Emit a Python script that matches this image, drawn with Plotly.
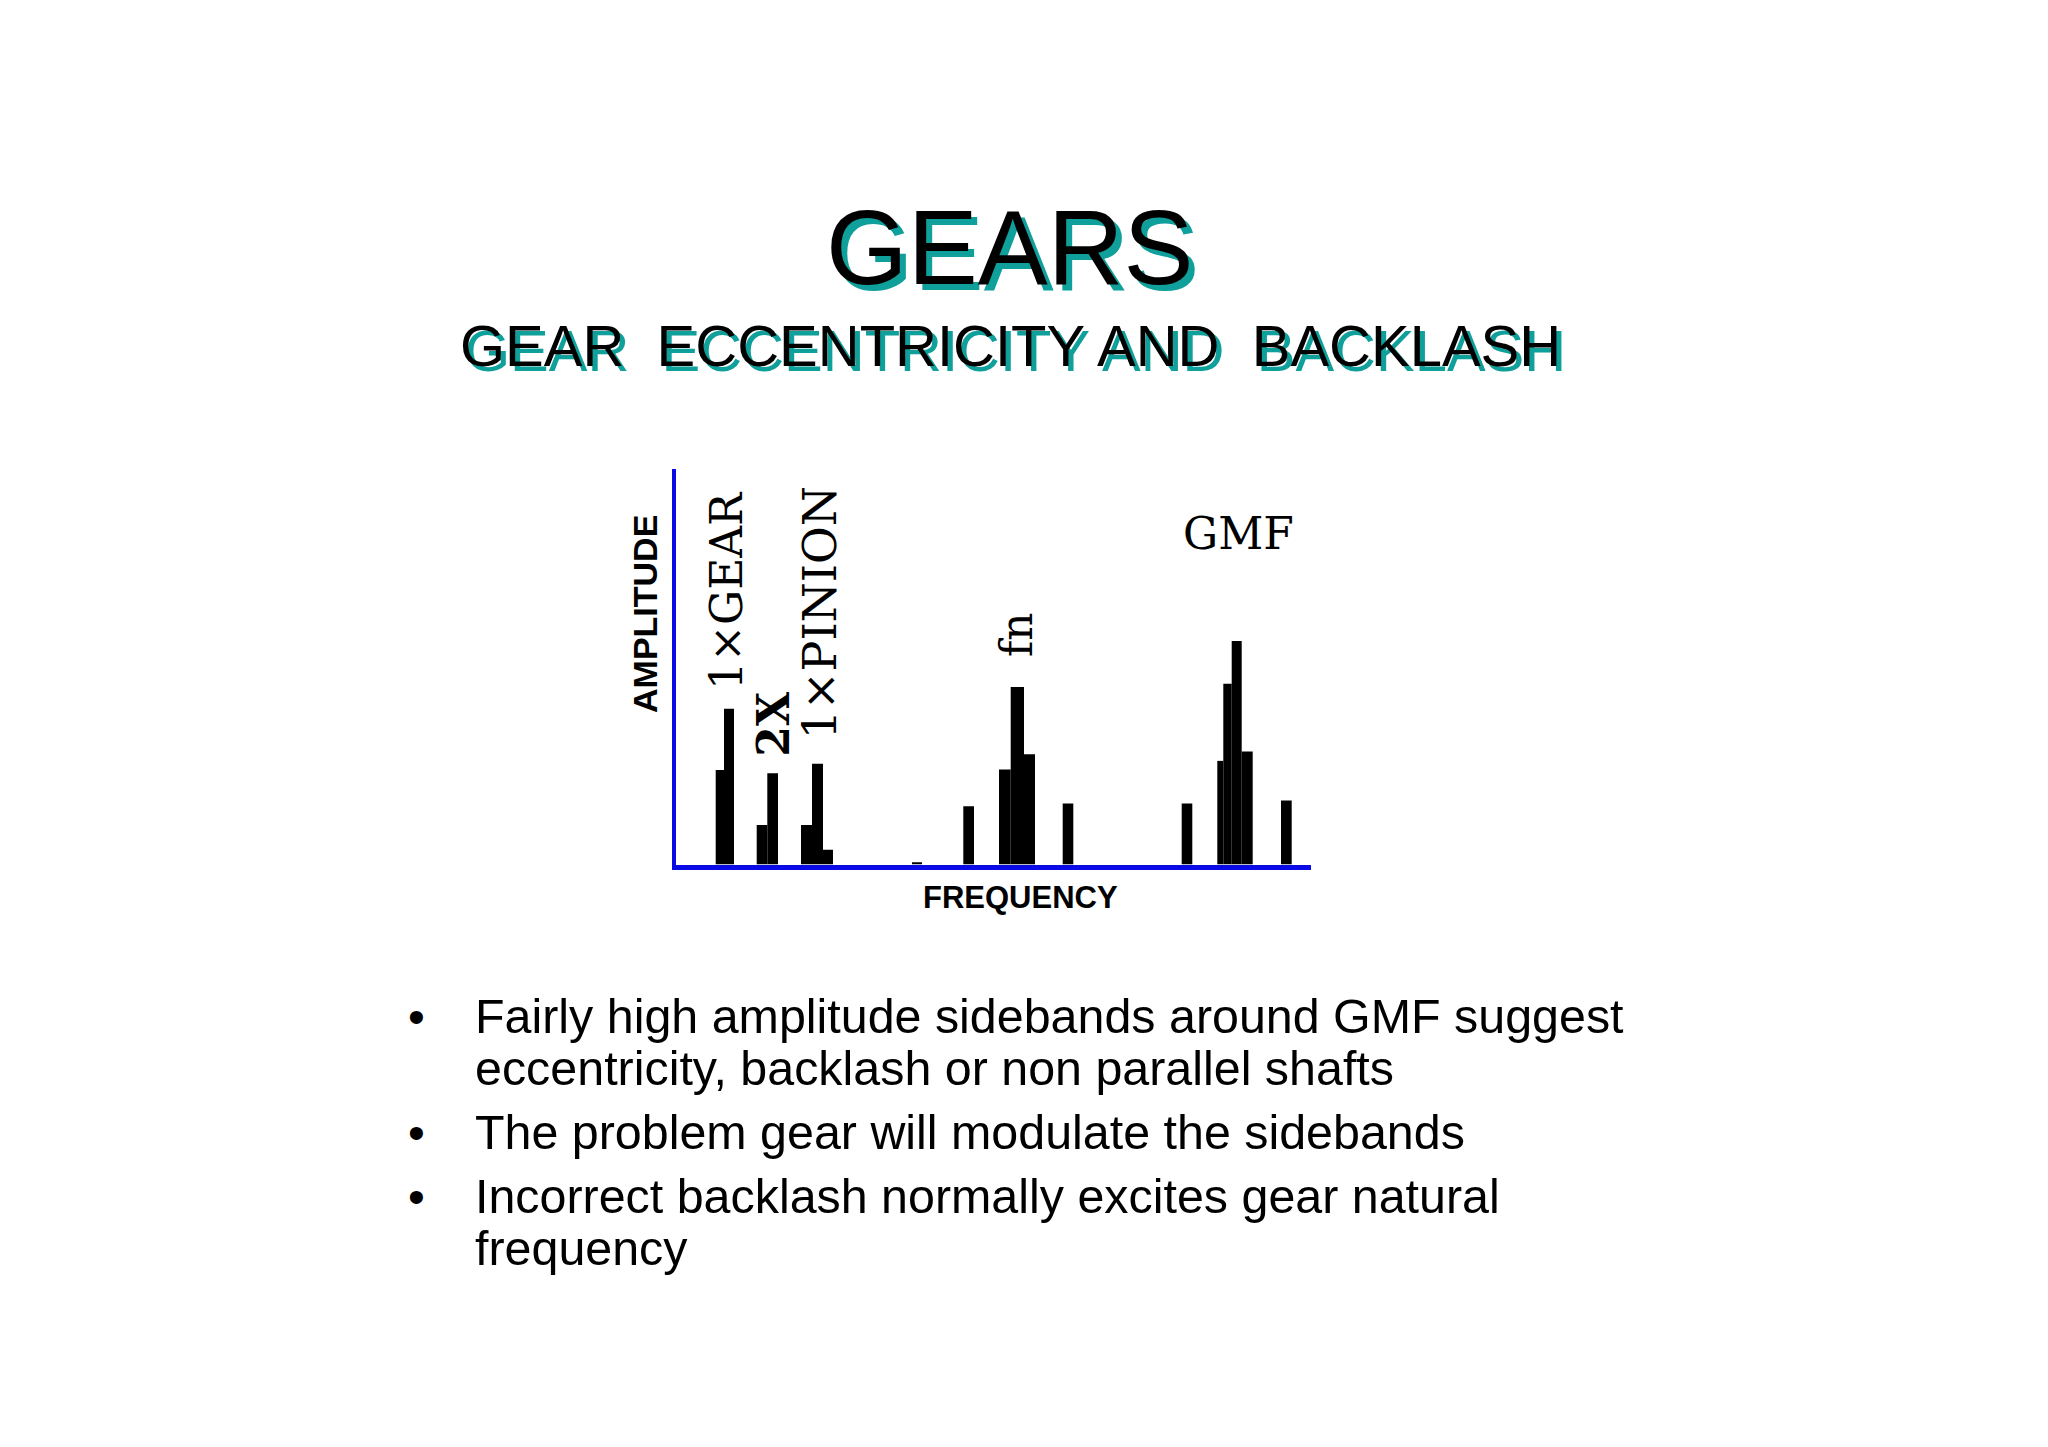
import plotly.graph_objects as go

# ---- data (frequency in arbitrary units, amplitude in % of full scale) ----
freq = [4.385, 5.30, 8.60, 9.665, 13.05, 14.15, 15.2, 24.1, 29.265, 32.885,
        34.135, 35.35, 39.2, 51.1, 54.43, 55.15, 56.07, 57.12, 61.035]
bin_width = [0.83, 1.0, 1.06, 1.07, 1.1, 1.1, 1.0, 1.0, 1.07, 1.17,
             1.33, 1.1, 1.06, 1.06, 0.6, 0.84, 1.0, 1.1, 1.07]
amplitude = [23.9, 39.4, 10.0, 23.1, 10.0, 25.5, 3.7, 0.6, 14.7, 24.0,
             44.9, 27.9, 15.4, 15.4, 26.2, 45.7, 56.5, 28.6, 16.2]

peak_labels = ["1×GEAR", "2X", "1×PINION", "fn", "GMF"]
axis_titles = ["AMPLITUDE", "FREQUENCY"]

title = "GEARS"
subtitle = "GEAR  ECCENTRICITY AND  BACKLASH"
bullets = [
    ["Fairly high amplitude sidebands around GMF suggest",
     "eccentricity, backlash or non parallel shafts"],
    ["The problem gear will modulate the sidebands"],
    ["Incorrect backlash normally excites gear natural",
     "frequency"],
]

# ---- layout constants ----
W, H = 2048, 1447
X_RANGE = [0, 63.5]
Y_RANGE = [0, 100]
BLUE = "#0a0ae6"
TEAL = "#10a09b"
SANS = "Liberation Sans, Arial, sans-serif"
SERIF = "DejaVu Serif, serif"


def px(x):
    return x / W


def py(y):
    return 1 - y / H


fig = go.Figure()
fig.add_trace(go.Bar(
    x=freq, y=amplitude, width=bin_width,
    marker=dict(color="black", line=dict(width=0)),
    hoverinfo="skip", showlegend=False,
))

ann = []
# peak labels (data coordinates)
label_pos = [(5.1, 69.2, -90, 44, "normal"), (9.8, 35.6, -90, 44, "bold"),
             (14.4, 63.5, -90, 46, "normal"), (34.0, 58.0, -90, 44, "normal"),
             (56.2, 83.6, 0, 44, "normal")]
for text, (lx, ly, ang, sz, wt) in zip(peak_labels, label_pos):
    ann.append(dict(x=lx, y=ly, xref="x", yref="y", text=text,
                    textangle=ang, showarrow=False, xanchor="center", yanchor="middle",
                    font=dict(family=SERIF, size=sz, color="black", weight=wt)))

# axis titles (page coordinates)
ann.append(dict(x=px(645), y=py(614), xref="paper", yref="paper", text=axis_titles[0],
                textangle=-90, showarrow=False, xanchor="center", yanchor="middle",
                font=dict(family=SANS, size=34, color="black", weight="bold")))
ann.append(dict(x=px(1020), y=py(897), xref="paper", yref="paper", text=axis_titles[1],
                showarrow=False, xanchor="center", yanchor="middle",
                font=dict(family=SANS, size=31, color="black", weight="bold")))

# title and subtitle with teal drop shadow
ann.append(dict(x=px(1010), y=py(247), xref="paper", yref="paper", text=title,
                showarrow=False, xanchor="center", yanchor="middle",
                font=dict(family=SANS, size=105, color="black",
                          shadow=f"6px 6px 0px {TEAL}")))
ann.append(dict(x=px(1010), y=py(345), xref="paper", yref="paper", text=subtitle,
                showarrow=False, xanchor="center", yanchor="middle",
                font=dict(family=SANS, size=58, color="black",
                          shadow=f"5px 5px 0px {TEAL}")))

# bullet list
baselines = [[1033, 1085], [1149], [1213, 1265]]
for lines, bls in zip(bullets, baselines):
    ann.append(dict(x=px(416), y=py(bls[0] - 17), xref="paper", yref="paper", text="•",
                    showarrow=False, xanchor="center", yanchor="middle",
                    font=dict(family=SANS, size=48, color="black")))
    for line, bl in zip(lines, bls):
        ann.append(dict(x=px(473), y=py(bl - 17), xref="paper", yref="paper", text=line,
                        showarrow=False, xanchor="left", yanchor="middle",
                        font=dict(family=SANS, size=48.4, color="black")))

fig.update_layout(
    width=W, height=H,
    margin=dict(l=0, r=0, t=0, b=0),
    paper_bgcolor="white", plot_bgcolor="white",
    annotations=ann,
    xaxis=dict(domain=[px(676), px(1311)], range=X_RANGE, showline=True, linecolor=BLUE,
               linewidth=5, showgrid=False, zeroline=False, showticklabels=False, ticks=""),
    yaxis=dict(domain=[py(864.5), py(469)], range=Y_RANGE, showline=True, linecolor=BLUE,
               linewidth=4, showgrid=False, zeroline=False, showticklabels=False, ticks=""),
)

fig.write_html("out.html", config={"displayModeBar": False},
               post_script="document.body.style.margin='0';document.body.style.overflow='hidden';")
